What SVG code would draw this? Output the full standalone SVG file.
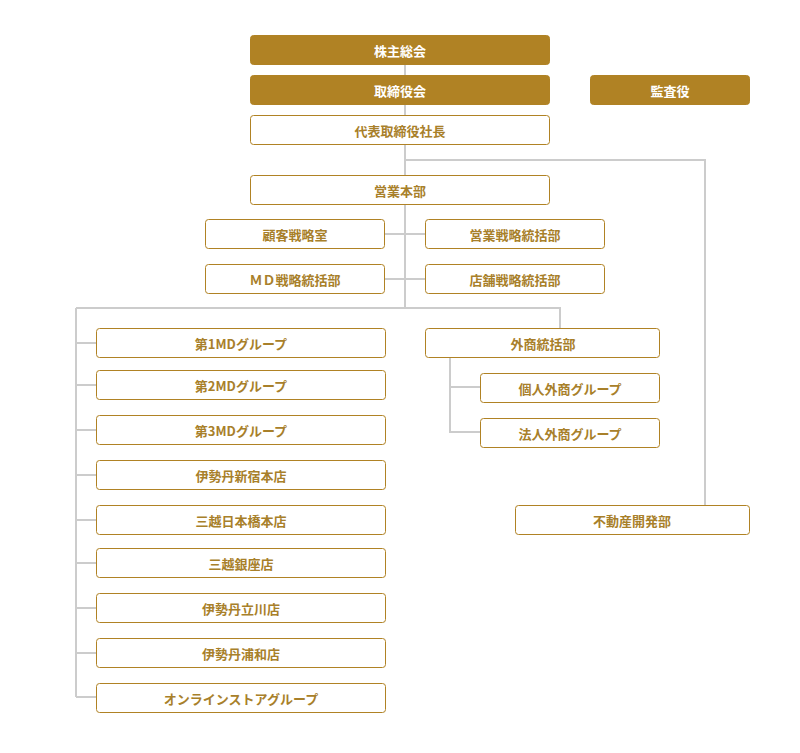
<svg xmlns="http://www.w3.org/2000/svg" width="800" height="753" viewBox="0 0 800 753">
<style>
.f rect{fill:#b08224;stroke:#b08224}
.f text{fill:#fff}
.o rect{fill:#fff;stroke:#b08224;stroke-width:1}
text{font-family:"Noto Sans CJK JP",sans-serif;font-size:13px;font-weight:bold;fill:#a8802a;text-anchor:middle;dominant-baseline:central}
#c path{fill:none;stroke:#ccc;stroke-width:2}
</style>
<rect width="800" height="753" fill="#fff"/>
<g id="c">
<path d="M405 64V308M405 160H705V505M385 234H425M385 279H425M76 308H560V328M76 308V697M76 343H96M76 385H96M76 430H96M76 475H96M76 520H96M76 563H96M76 608H96M76 653H96M76 697H96M450 357V432H480M450 387H480"/>
</g>
<g id="n1" class="f"><rect x="250.5" y="35.5" width="299" height="29" rx="3"/><text x="400" y="50">株主総会</text></g>
<g id="n2" class="f"><rect x="250.5" y="75.5" width="299" height="29" rx="3"/><text x="400" y="90">取締役会</text></g>
<g id="n3" class="f"><rect x="590.5" y="75.5" width="159" height="29" rx="3"/><text x="670" y="90">監査役</text></g>
<g id="n4" class="o"><rect x="250.5" y="115.5" width="299" height="29" rx="3"/><text x="400" y="130">代表取締役社長</text></g>
<g id="n5" class="o"><rect x="250.5" y="175.5" width="299" height="29" rx="3"/><text x="400" y="190">営業本部</text></g>
<g id="n6" class="o"><rect x="205.5" y="219.5" width="179" height="29" rx="3"/><text x="295" y="234">顧客戦略室</text></g>
<g id="n7" class="o"><rect x="425.5" y="219.5" width="179" height="29" rx="3"/><text x="515" y="234">営業戦略統括部</text></g>
<g id="n8" class="o"><rect x="205.5" y="264.5" width="179" height="29" rx="3"/><text x="295" y="279">ＭＤ戦略統括部</text></g>
<g id="n9" class="o"><rect x="425.5" y="264.5" width="179" height="29" rx="3"/><text x="515" y="279">店舗戦略統括部</text></g>
<g id="n10" class="o"><rect x="96.5" y="328.5" width="289" height="29" rx="3"/><text x="241" y="343">第1MDグループ</text></g>
<g id="n11" class="o"><rect x="96.5" y="370.5" width="289" height="29" rx="3"/><text x="241" y="385">第2MDグループ</text></g>
<g id="n12" class="o"><rect x="96.5" y="415.5" width="289" height="29" rx="3"/><text x="241" y="430">第3MDグループ</text></g>
<g id="n13" class="o"><rect x="96.5" y="460.5" width="289" height="29" rx="3"/><text x="241" y="475">伊勢丹新宿本店</text></g>
<g id="n14" class="o"><rect x="96.5" y="505.5" width="289" height="29" rx="3"/><text x="241" y="520">三越日本橋本店</text></g>
<g id="n15" class="o"><rect x="96.5" y="548.5" width="289" height="29" rx="3"/><text x="241" y="563">三越銀座店</text></g>
<g id="n16" class="o"><rect x="96.5" y="593.5" width="289" height="29" rx="3"/><text x="241" y="608">伊勢丹立川店</text></g>
<g id="n17" class="o"><rect x="96.5" y="638.5" width="289" height="29" rx="3"/><text x="241" y="653">伊勢丹浦和店</text></g>
<g id="n18" class="o"><rect x="96.5" y="683.5" width="289" height="29" rx="3"/><text x="241" y="698">オンラインストアグループ</text></g>
<g id="n19" class="o"><rect x="425.5" y="328.5" width="234" height="29" rx="3"/><text x="543" y="343">外商統括部</text></g>
<g id="n20" class="o"><rect x="480.5" y="373.5" width="179" height="29" rx="3"/><text x="570" y="388">個人外商グループ</text></g>
<g id="n21" class="o"><rect x="480.5" y="418.5" width="179" height="29" rx="3"/><text x="570" y="433">法人外商グループ</text></g>
<g id="n22" class="o"><rect x="515.5" y="505.5" width="234" height="29" rx="3"/><text x="632" y="520">不動産開発部</text></g>
</svg>
